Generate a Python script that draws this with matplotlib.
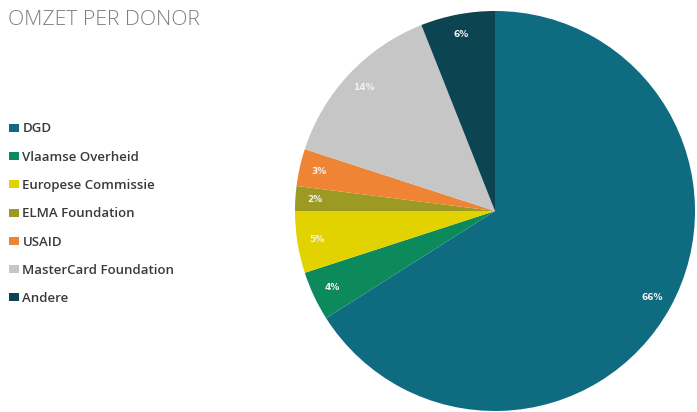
import matplotlib
matplotlib.use('Agg')
from matplotlib import pyplot as plt
from matplotlib.patches import Patch

# omzet per donor, in procent
donors = ['DGD', 'Vlaamse Overheid', 'Europese Commissie', 'ELMA Foundation',
          'USAID', 'MasterCard Foundation', 'Andere']
shares = [66, 4, 5, 2, 3, 14, 6]
colors = ['#0e6b80', '#0c8a5c', '#e2d300', '#9c9a22', '#ee8434', '#c6c6c6', '#0d4452']

W, H = 697, 412
fig = plt.figure(figsize=(W / 100, H / 100), dpi=100)

# pie centre ~ (495, 211) px, radius ~200 px
cx, cy, r = 495, 211, 200
ax = fig.add_axes([(cx - r) / W, (H - cy - r) / H, 2 * r / W, 2 * r / H])
wedges, texts, autotexts = ax.pie(shares, colors=colors, startangle=90, counterclock=False,
                                  autopct='%d%%', pctdistance=0.9,
                                  wedgeprops=dict(linewidth=0))
for t in autotexts:
    t.set_color('#f2f2f2')
    t.set_fontsize(6.5)
    t.set_fontweight('bold')
ax.set_xlim(-1, 1)
ax.set_ylim(-1, 1)
ax.set_aspect('equal')
ax.axis('off')

fig.text(8 / W, 1 - 20 / H, 'OMZET PER DONOR', fontsize=15.2, color='#7d7d7d',
         family='Open Sans', fontweight='light', va='center', ha='left')

handles = [Patch(facecolor=c, edgecolor='none') for c in colors]
fig.legend(handles, donors, loc='upper left', bbox_to_anchor=(4 / W, 1 - 117 / H),
           frameon=False, handlelength=0.75, handleheight=0.55,
           handletextpad=0.25, labelspacing=1.16, borderaxespad=0,
           prop=dict(family='Open Sans', size=9.5, weight='semibold'), labelcolor='#3a3a3a')

fig.savefig('out.png', dpi=100)
